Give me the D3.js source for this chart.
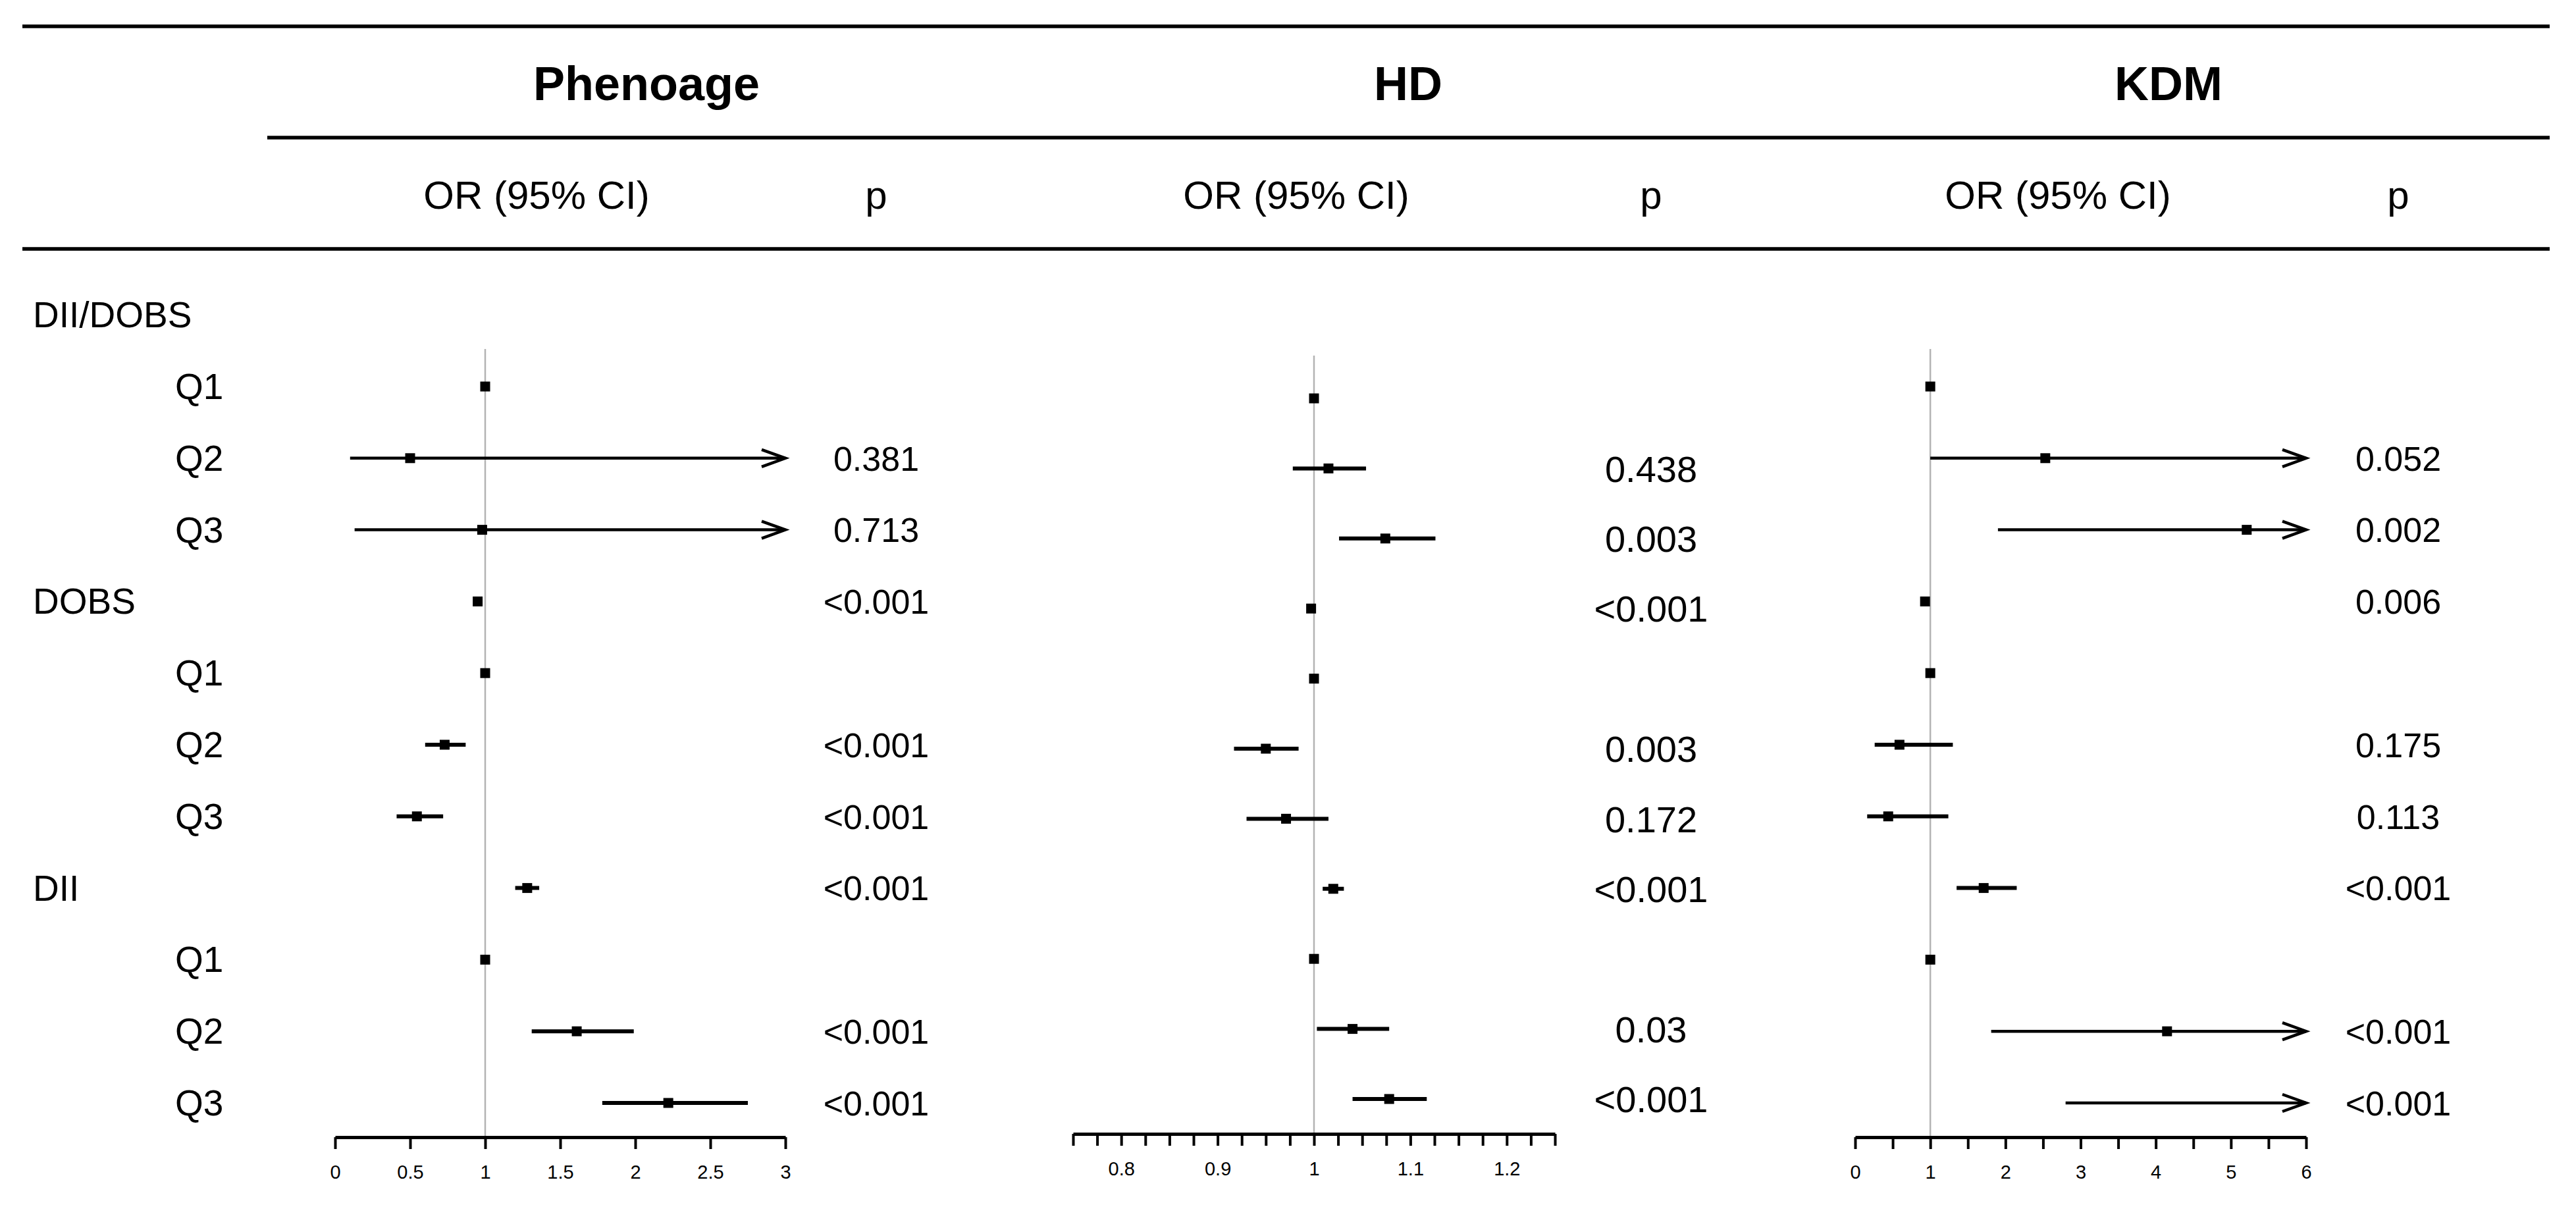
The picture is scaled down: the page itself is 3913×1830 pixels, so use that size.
<!DOCTYPE html>
<html>
<head>
<meta charset="utf-8">
<script src="https://cdn.jsdelivr.net/npm/d3@7"></script>
<style>
  body { margin: 0; background: #fff; }
  text { font-family: "Liberation Sans", Arial, Helvetica, sans-serif; fill: #000; }
  .ejes path.domain { stroke: #000; stroke-width: 5; }
  .ejes .tick line { stroke: #000; stroke-width: 4; }
  .ejes .tick text { font-size: 29px; fill: #000; }
</style>
</head>
<body>
<div id="graf"></div>
<script>
// filas de la tabla
const rowLabels = ["DII/DOBS", "Q1", "Q2", "Q3", "DOBS", "Q1", "Q2", "Q3", "DII", "Q1", "Q2", "Q3"]
const groupRows = [0, 4, 8]

// Phenoage
const phenoOR = [null, 1, 0.50, 0.98, 0.95, 1, 0.73, 0.545, 1.28, 1, 1.61, 2.22]
const phenoLo = [null, 1, 0.10, 0.13, 0.94, 1, 0.60, 0.41, 1.20, 1, 1.31, 1.78]
const phenoHi = [null, 1, 4.2, 3.9, 0.96, 1, 0.87, 0.72, 1.36, 1, 1.99, 2.75]
const phenoP = ["", "", "0.381", "0.713", "<0.001", "", "<0.001", "<0.001", "<0.001", "", "<0.001", "<0.001"]
const phenoTicks = [0, 0.5, 1, 1.5, 2, 2.5, 3]
const phenoTickLabels = [0, 0.5, 1, 1.5, 2, 2.5, 3]

// HD
const hdOR = [null, 1, 1.015, 1.074, 0.997, 1, 0.95, 0.971, 1.020, 1, 1.040, 1.078]
const hdLo = [null, 1, 0.978, 1.026, 0.995, 1, 0.917, 0.930, 1.009, 1, 1.003, 1.040]
const hdHi = [null, 1, 1.054, 1.126, 0.999, 1, 0.984, 1.015, 1.031, 1, 1.078, 1.117]
const hdP = ["", "", "0.438", "0.003", "<0.001", "", "0.003", "0.172", "<0.001", "", "0.03", "<0.001"]
const hdTicks = [0.75, 0.775, 0.8, 0.825, 0.85, 0.875, 0.9, 0.925, 0.95, 0.975, 1,
  1.025, 1.05, 1.075, 1.1, 1.125, 1.15, 1.175, 1.2, 1.225, 1.25]
const hdTickLabels = [0.8, 0.9, 1, 1.1, 1.2]

// KDM
const kdmOR = [null, 1, 2.53, 5.21, 0.93, 1, 0.59, 0.44, 1.71, 1, 4.15, 7.2]
const kdmLo = [null, 1, 1.0, 1.90, 0.91, 1, 0.26, 0.16, 1.35, 1, 1.81, 2.80]
const kdmHi = [null, 1, 6.4, 14, 0.95, 1, 1.30, 1.24, 2.15, 1, 9.5, 18]
const kdmP = ["", "", "0.052", "0.002", "0.006", "", "0.175", "0.113", "<0.001", "", "<0.001", "<0.001"]
const kdmTicks = [0, 0.5, 1, 1.5, 2, 2.5, 3, 3.5, 4, 4.5, 5, 5.5, 6]
const kdmTickLabels = [0, 1, 2, 3, 4, 5, 6]

const anchoTotal = 3913
const altoTotal = 1830

const svg = d3.select("#graf")
  .append("svg")
  .attr("width", anchoTotal)
  .attr("height", altoTotal)

const panels = [
  { name: "Phenoage", or: phenoOR, lo: phenoLo, hi: phenoHi, p: phenoP,
    domain: [0, 3], ticks: phenoTicks, labels: phenoTickLabels,
    xr: [509, 1193], yr: [587, 1675], axisY: 1727, refTop: 530,
    titleX: 982, orX: 815, pX: 1331, pSize: 52 },
  { name: "HD", or: hdOR, lo: hdLo, hi: hdHi, p: hdP,
    domain: [0.75, 1.25], ticks: hdTicks, labels: hdTickLabels,
    xr: [1630, 2362], yr: [605, 1669], axisY: 1722, refTop: 540,
    titleX: 2139, orX: 1969, pX: 2508, pSize: 56 },
  { name: "KDM", or: kdmOR, lo: kdmLo, hi: kdmHi, p: kdmP,
    domain: [0, 6], ticks: kdmTicks, labels: kdmTickLabels,
    xr: [2818, 3503], yr: [587, 1675], axisY: 1727, refTop: 530,
    titleX: 3294, orX: 3126, pX: 3643, pSize: 52 }
]

// lineas horizontales de la cabecera
const rules = [
  { y: 40, x0: 34 },
  { y: 209, x0: 406 },
  { y: 378, x0: 34 }
]
svg.selectAll("line.rule").data(rules).enter()
  .append("line")
  .attr("class", "rule")
  .attr("x1", (d) => d.x0)
  .attr("x2", 3873)
  .attr("y1", (d) => d.y)
  .attr("y2", (d) => d.y)
  .attr("stroke", "#000")
  .attr("stroke-width", 5.5)

// etiquetas de fila (usa la escala de Phenoage)
const yRows = d3.scaleLinear().domain([1, 11]).range(panels[0].yr)
svg.selectAll("text.rowlab").data(rowLabels).enter()
  .append("text")
  .attr("class", "rowlab")
  .attr("x", (d, i) => groupRows.includes(i) ? 50 : 266)
  .attr("y", (d, i) => yRows(i) + 19)
  .attr("font-size", 55)
  .text((d) => d)

panels.forEach((pn) => {
  const x = d3.scaleLinear().domain(pn.domain).range(pn.xr)
  const y = d3.scaleLinear().domain([1, 11]).range(pn.yr)
  const g = svg.append("g")

  g.append("text")
    .attr("x", pn.titleX)
    .attr("y", 152)
    .attr("text-anchor", "middle")
    .attr("font-size", 72)
    .attr("font-weight", "bold")
    .text(pn.name)

  g.append("text")
    .attr("x", pn.orX)
    .attr("y", 317)
    .attr("text-anchor", "middle")
    .attr("font-size", 60)
    .text("OR (95% CI)")

  g.append("text")
    .attr("x", pn.pX)
    .attr("y", 317)
    .attr("text-anchor", "middle")
    .attr("font-size", 60)
    .text("p")

  // linea de referencia en OR = 1
  g.append("line")
    .attr("x1", x(1)).attr("x2", x(1))
    .attr("y1", pn.refTop).attr("y2", pn.axisY)
    .attr("stroke", "#b3b3b3")
    .attr("stroke-width", 2.5)

  const rows = d3.range(rowLabels.length)
    .filter((i) => pn.or[i] !== null)
    .map((i) => ({ i: i, or: pn.or[i], lo: pn.lo[i], hi: pn.hi[i] }))

  const maxV = pn.domain[1]

  g.selectAll("line.ci").data(rows).enter()
    .append("line")
    .attr("class", "ci")
    .attr("x1", (d) => x(d.lo))
    .attr("x2", (d) => x(Math.min(d.hi, maxV)))
    .attr("y1", (d) => y(d.i))
    .attr("y2", (d) => y(d.i))
    .attr("stroke", "#000")
    .attr("stroke-width", (d) => d.hi > maxV ? 4.5 : 6)

  g.selectAll("path.arrow").data(rows.filter((d) => d.hi > maxV)).enter()
    .append("path")
    .attr("class", "arrow")
    .attr("d", (d) => {
      const tx = x(maxV), ty = y(d.i)
      return `M${tx - 36},${ty - 13} L${tx},${ty} L${tx - 36},${ty + 13}`
    })
    .attr("fill", "none")
    .attr("stroke", "#000")
    .attr("stroke-width", 4.5)

  g.selectAll("rect.box").data(rows.filter((d) => d.or <= maxV)).enter()
    .append("rect")
    .attr("class", "box")
    .attr("x", (d) => x(d.or) - 7.5)
    .attr("y", (d) => y(d.i) - 7.5)
    .attr("width", 15)
    .attr("height", 15)
    .attr("fill", "#000")

  g.selectAll("text.pval").data(pn.p.map((t, i) => ({ t: t, i: i })).filter((d) => d.t !== "")).enter()
    .append("text")
    .attr("class", "pval")
    .attr("x", pn.pX)
    .attr("y", (d) => y(d.i) + pn.pSize * 0.36)
    .attr("text-anchor", "middle")
    .attr("font-size", pn.pSize)
    .text((d) => d.t)

  const xAxis = d3.axisBottom(x)
    .tickValues(pn.ticks)
    .tickSize(18)
    .tickSizeOuter(0)
    .tickPadding(24)
    .tickFormat((v) => pn.labels.some((l) => Math.abs(l - v) < 1e-9) ? d3.format("~g")(v) : "")

  g.append("g")
    .attr("class", "ejes")
    .attr("transform", `translate(0, ${pn.axisY})`)
    .call(xAxis)
    .call((s) => s.selectAll(".tick text").attr("font-family", null))
})
</script>
</body>
</html>
